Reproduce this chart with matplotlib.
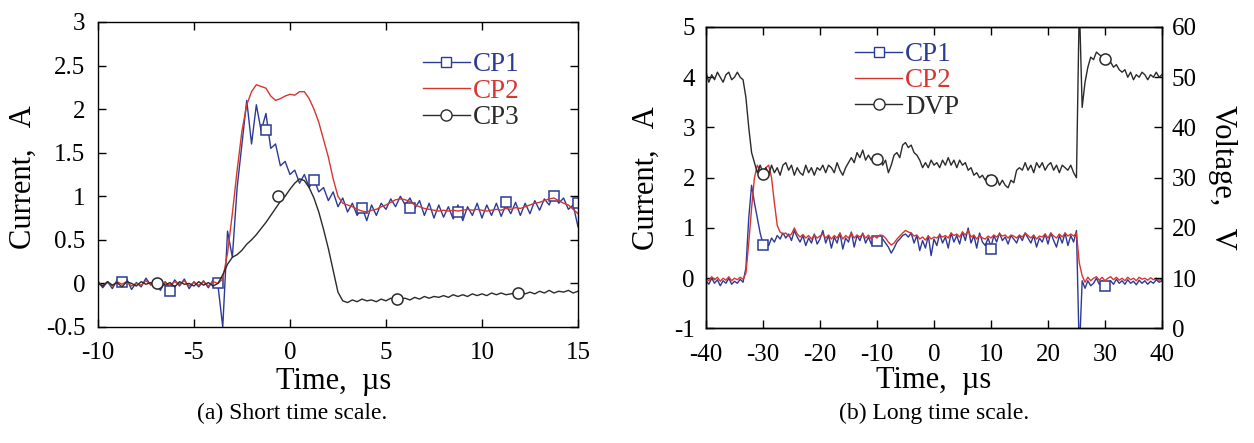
import numpy as np
import matplotlib
matplotlib.use("Agg")
import matplotlib.pyplot as plt
from matplotlib.lines import Line2D

plt.rcParams['font.family'] = ['Liberation Serif', 'DejaVu Serif']
plt.rcParams['axes.unicode_minus'] = False

# ---------------- (a) short time scale, t = -10 .. 15 us, step 0.25 ----------------
t_a = np.arange(-10, 15.001, 0.25)

cp1_a = [0.03, -0.05, 0.02, -0.06, 0.04, -0.03, 0.05, -0.07, 0.01, -0.04, 0.06, -0.02, 0.03,
         -0.08, 0.02, -0.05, 0.04, -0.03, 0.05, -0.06, 0.02, -0.04, 0.03, -0.05, 0.04, -0.02,
         -0.5, 0.6, 0.3, 1.1, 1.6, 2.1, 1.6, 2.05, 1.75, 1.95, 1.55, 1.6, 1.35, 1.4,
         1.25, 1.3, 1.15, 1.25, 1.1, 1.2, 1.05, 1.1, 0.95, 1.05,
         0.88, 0.98, 0.82, 0.92, 0.78, 0.88, 0.72, 0.9, 0.78, 0.92,
         0.85, 0.97, 0.88, 1.0, 0.9, 0.98, 0.86, 0.95, 0.78, 0.92,
         0.75, 0.9, 0.76, 0.88, 0.74, 0.9, 0.72, 0.88, 0.78, 0.92,
         0.75, 0.9, 0.78, 0.92, 0.77, 0.9, 0.8, 0.93, 0.78, 0.92,
         0.8, 0.95, 0.84, 0.97, 0.9, 1.03, 0.92, 0.98, 0.85, 0.9, 0.65]

cp2_a = [0.0, -0.02, 0.01, -0.03, 0.02, -0.01, 0.02, -0.03, 0.0, -0.02, 0.03, -0.01, 0.01,
         -0.04, 0.01, -0.02, 0.02, -0.01, 0.03, -0.03, 0.01, -0.02, 0.02, -0.03, 0.02, 0.0,
         0.05, 0.35, 0.8, 1.3, 1.75, 2.05, 2.2, 2.28, 2.26, 2.24, 2.15, 2.1, 2.12, 2.15,
         2.17, 2.16, 2.2, 2.2, 2.12, 2.0, 1.85, 1.65, 1.45, 1.2,
         1.0, 0.92, 0.9, 0.88, 0.85, 0.83, 0.82, 0.84, 0.85, 0.88,
         0.9, 0.93, 0.96, 0.97, 0.96, 0.94, 0.9, 0.88, 0.86, 0.85,
         0.84, 0.83, 0.84, 0.83, 0.84, 0.83, 0.84, 0.85, 0.84, 0.85,
         0.84, 0.83, 0.84, 0.85, 0.84, 0.86, 0.85, 0.87, 0.86, 0.88,
         0.9, 0.92, 0.93, 0.95, 0.97, 0.98, 0.95, 0.92, 0.9, 0.85, 0.8]

cp3_a = [0.0, -0.03, 0.02, -0.02, 0.01, -0.04, 0.02, 0.0, -0.03, 0.02, -0.01, 0.01, -0.03,
         0.02, -0.02, 0.01, -0.04, 0.02, -0.01, 0.0, -0.03, 0.02, -0.02, 0.01, -0.03, 0.0,
         0.1, 0.22, 0.3, 0.33, 0.38, 0.45, 0.5, 0.56, 0.63, 0.7, 0.78, 0.86, 0.94, 1.0,
         1.08, 1.15, 1.2, 1.18, 1.1, 0.98, 0.82, 0.62, 0.4, 0.15,
         -0.1, -0.2, -0.22, -0.19, -0.21, -0.18, -0.2, -0.19, -0.21, -0.18,
         -0.2, -0.17, -0.19, -0.18, -0.17, -0.19, -0.16, -0.18, -0.15, -0.17,
         -0.15, -0.16, -0.14, -0.16, -0.13, -0.15, -0.13, -0.15, -0.12, -0.14,
         -0.12, -0.14, -0.11, -0.13, -0.11, -0.13, -0.12, -0.11, -0.09, -0.12,
         -0.1, -0.12, -0.09, -0.11, -0.08, -0.11, -0.09, -0.1, -0.08, -0.11, -0.09]

cp1_a_mk_t = [-8.75, -6.25, -3.75, -1.25, 1.25, 3.75, 6.25, 8.75, 11.25, 13.75, 15.0]
cp1_a_mk_y = [0.02, -0.09, 0.0, 1.76, 1.19, 0.86, 0.86, 0.82, 0.93, 1.0, 0.92]
cp3_a_mk_t = [-6.9, -0.6, 5.6, 11.9]
cp3_a_mk_y = [0.0, 1.0, -0.18, -0.11]

# ---------------- (b) long time scale, t = -40 .. 40 us, step 0.5 ----------------
t_b = np.arange(-40, 40.001, 0.5)

cp1_b = [-0.05, -0.12, 0.0, -0.1, -0.03, -0.15, -0.05, -0.1, 0.0, -0.12, -0.06, -0.1, -0.02, -0.08,
         0.2, 1.2, 1.85, 1.5, 1.2, 0.9,
         0.68, 0.75, 0.65, 0.8, 0.72, 0.85, 0.78, 0.9, 0.8, 0.88,
         0.75, 0.95, 0.82, 0.72, 0.85, 0.65, 0.8, 0.7, 0.88, 0.68,
         0.78, 0.95, 0.7, 0.85, 0.6, 0.82, 0.7, 0.9, 0.58, 0.8,
         0.72, 0.92, 0.62, 0.85, 0.75, 0.9, 0.7, 0.82, 0.68, 0.8,
         0.72, 0.85, 0.78, 0.7, 0.62, 0.5, 0.6, 0.72, 0.78, 0.85,
         0.88, 0.82, 0.9, 0.7, 0.85, 0.55, 0.75, 0.6, 0.85, 0.45,
         0.78, 0.65, 0.88, 0.7, 0.82, 0.6, 0.9, 0.72, 0.85, 0.68,
         0.92, 0.75, 1.0, 0.7, 0.85, 0.6, 0.9, 0.72, 0.65, 0.8,
         0.62, 0.85, 0.72, 0.9, 0.75, 0.82, 0.68, 0.85, 0.78, 0.7,
         0.85, 0.75, 0.9, 0.8, 0.7, 0.85, 0.62, 0.8, 0.72, 0.88,
         0.68, 0.9, 0.75, 0.62, 0.85, 0.7, 0.9, 0.65, 0.85, 0.72,
         0.95, -1.5, -0.05, -0.2, -0.05, -0.15, -0.1, 0.0, -0.12, -0.05,
         -0.15, -0.08, -0.05, -0.12, -0.02, -0.1, -0.05, -0.12, -0.03, -0.1,
         -0.06, -0.13, -0.04, -0.1, -0.05, -0.12, -0.06, -0.1, -0.03, -0.08, -0.05]

cp2_b = [0.0, -0.05, 0.03, -0.03, 0.02, -0.06, 0.0, -0.04, 0.03, -0.05, 0.0, -0.03, 0.02, -0.02,
         0.1, 0.7, 1.4, 2.0, 2.25, 2.15,
         2.1, 2.2, 2.25, 2.0, 1.5, 1.05, 0.92, 0.88, 0.9, 0.84,
         0.88, 1.0, 0.88, 0.82, 0.87, 0.8, 0.85, 0.78, 0.86, 0.8,
         0.84, 0.88, 0.8, 0.86, 0.78, 0.85, 0.8, 0.9, 0.78, 0.85,
         0.8, 0.9, 0.8, 0.86, 0.82, 0.88, 0.8, 0.86, 0.78, 0.84,
         0.8, 0.86, 0.85, 0.8, 0.72, 0.66, 0.7, 0.78, 0.84, 0.9,
         0.95, 0.92, 0.9, 0.84, 0.86, 0.78, 0.82, 0.76, 0.84, 0.78,
         0.82, 0.8, 0.86, 0.82, 0.85, 0.8, 0.9, 0.85, 0.88, 0.82,
         0.92, 0.86, 0.95, 0.82, 0.86, 0.78, 0.85, 0.8, 0.78, 0.84,
         0.8, 0.86, 0.82, 0.88, 0.84, 0.86, 0.8, 0.86, 0.84, 0.8,
         0.86, 0.82, 0.9, 0.85, 0.8, 0.86, 0.78, 0.84, 0.82, 0.88,
         0.8, 0.9, 0.84, 0.8, 0.88, 0.82, 0.9, 0.84, 0.88, 0.84,
         0.9, 0.3, 0.05, -0.08, 0.02, -0.05, 0.0, 0.03, -0.04, 0.02,
         -0.05, 0.0, 0.03, -0.03, 0.02, -0.04, 0.0, -0.05, 0.02, -0.03,
         0.0, -0.05, 0.02, -0.02, 0.0, -0.04, 0.01, -0.03, 0.0, -0.04, -0.02]

dvp_b = [51, 49, 50.5, 49.5, 51, 50, 49, 50.5, 51, 49.5, 50, 51, 50,
         49.5, 46, 40, 35, 33, 31, 32.5,
         31, 32, 30.5, 32.5, 31, 32, 30.5, 32.5, 33, 31.5,
         32.5, 30.5, 32, 31, 30.5, 32.5, 31, 32, 30.5, 32,
         31.5, 32.5, 31, 32.5, 32, 31, 33, 31.5, 30.5, 32,
         33, 34, 33, 35, 34, 35.5, 33.5, 34.5, 33.5, 34.5,
         33.5, 34, 32.5, 33.5, 31, 32.5, 34.5, 35, 34, 36.5,
         37, 36, 36.5, 35, 34.5, 33.5, 32, 33, 32, 33.5,
         32.5, 33, 32, 33.5, 32.5, 34, 32.5, 33.5, 32, 33.5,
         32.5, 33, 31.5, 32, 30.5, 31, 30, 30.5, 29.5, 30.5,
         29.5, 29, 30, 28.5, 29.5, 28.5, 28, 29.5, 29, 31.5,
         32, 31.5, 33, 31.5, 32.5, 31, 33, 32, 33, 31.5,
         32.5, 33, 31.5, 32.5, 31, 32.5, 32, 31.5, 32.5, 31,
         30, 65, 44, 49, 52, 54, 53.5, 55, 54.5, 54,
         53.5, 52.5, 53, 52, 52.5, 51.5, 51, 51.5, 50, 51,
         49.5, 50.5, 50, 51, 50.5, 49.5, 50.5, 50, 51, 50, 50.5]

cp1_b_mk_t = [-30, -10, 10, 30]
cp1_b_mk_y = [0.66, 0.75, 0.58, -0.15]
dvp_b_mk_t = [-30, -10, 10, 30]
dvp_b_mk_y = [30.8, 33.7, 29.6, 53.6]

blue = '#2b3a94'
red = '#d8352f'
dark = '#2a2a2a'
lw = 1.0
ms = 7.5
lab_fs = 22
tick_fs = 18
leg_fs = 19.5

fig = plt.figure(figsize=(12.54, 4.43), dpi=100)

# ---- panel (a)
ax1 = fig.add_axes([0.0781, 0.2619, 0.3828, 0.6885])
ax1.plot(t_a, cp1_a, color=blue, lw=lw)
ax1.plot(cp1_a_mk_t, cp1_a_mk_y, ls='none', marker='s', ms=ms, mfc='white', mec=blue, mew=1.1)
ax1.plot(t_a, cp2_a, color=red, lw=lw)
ax1.plot(t_a, cp3_a, color=dark, lw=lw)
ax1.plot(cp3_a_mk_t, cp3_a_mk_y, ls='none', marker='o', ms=ms + 0.5, mfc='white', mec=dark, mew=1.1)
ax1.set_xlim(-10, 15)
ax1.set_ylim(-0.5, 3)
ax1.set_xticks([-10, -5, 0, 5, 10, 15])
ax1.set_yticks([-0.5, 0, 0.5, 1, 1.5, 2, 2.5, 3])
ax1.set_yticklabels(['-0.5', '0', '0.5', '1', '1.5', '2', '2.5', '3'])
ax1.set_xlabel('Time,  \u00b5s', fontsize=lab_fs)
ax1.set_ylabel('Current,   A', fontsize=lab_fs)
ax1.xaxis.set_label_coords(0.49, -0.13)
ax1.yaxis.set_label_coords(-0.125, 0.49)
h1 = [Line2D([], [], color=blue, lw=lw, marker='s', ms=ms, mfc='white', mec=blue),
      Line2D([], [], color=red, lw=lw),
      Line2D([], [], color=dark, lw=lw, marker='o', ms=ms + 0.5, mfc='white', mec=dark)]
leg1 = ax1.legend(h1, ['CP1', 'CP2', 'CP3'], loc='upper left', bbox_to_anchor=(0.677, 0.9),
                  frameon=False, fontsize=leg_fs, handlelength=1.74, handletextpad=0.1,
                  labelspacing=0.05, borderpad=0, borderaxespad=0)
for txt, c in zip(leg1.get_texts(), [blue, red, dark]):
    txt.set_color(c)
fig.text(0.233, 0.055, '(a) Short time scale.', ha='center', fontsize=17)

# ---- panel (b)
ax2 = fig.add_axes([0.563, 0.2585, 0.3636, 0.6806])
ax2.plot(t_b, cp1_b, color=blue, lw=lw)
ax2.plot(cp1_b_mk_t, cp1_b_mk_y, ls='none', marker='s', ms=ms, mfc='white', mec=blue, mew=1.1)
ax2.plot(t_b, cp2_b, color=red, lw=lw)
ax2.set_xlim(-40, 40)
ax2.set_ylim(-1, 5)
ax2.set_xticks(range(-40, 41, 10))
ax2.set_yticks(range(-1, 6))
ax2.set_xlabel('Time,  \u00b5s', fontsize=lab_fs)
ax2.set_ylabel('Current,   A', fontsize=lab_fs)
ax2.xaxis.set_label_coords(0.5, -0.126)
ax2.yaxis.set_label_coords(-0.1, 0.5)

ax3 = ax2.twinx()
ax3.plot(t_b, dvp_b, color=dark, lw=lw)
ax3.plot(dvp_b_mk_t, dvp_b_mk_y, ls='none', marker='o', ms=ms + 0.5, mfc='white', mec=dark, mew=1.1)
ax3.set_ylim(0, 60)
ax3.set_yticks(range(0, 61, 10))
ax3.set_ylabel('Voltage,   V', fontsize=lab_fs)
ylab = ax3.yaxis.label
ylab.set_rotation(270)
ylab.set_rotation_mode('anchor')
ylab.set_va('bottom')
ylab.set_ha('center')
ax3.yaxis.set_label_coords(1.1, 0.5)

h2 = [Line2D([], [], color=blue, lw=lw, marker='s', ms=ms, mfc='white', mec=blue),
      Line2D([], [], color=red, lw=lw),
      Line2D([], [], color=dark, lw=lw, marker='o', ms=ms + 0.5, mfc='white', mec=dark)]
leg2 = ax3.legend(h2, ['CP1', 'CP2', 'DVP'], loc='upper left', bbox_to_anchor=(0.327, 0.95),
                  frameon=False, fontsize=leg_fs, handlelength=1.74, handletextpad=0.1,
                  labelspacing=0.05, borderpad=0, borderaxespad=0)
for txt, c in zip(leg2.get_texts(), [blue, red, dark]):
    txt.set_color(c)
fig.text(0.745, 0.055, '(b) Long time scale.', ha='center', fontsize=17)

for ax in (ax1, ax2, ax3):
    ax.tick_params(direction='in', length=6, labelsize=tick_fs, width=1)
    for s in ax.spines.values():
        s.set_linewidth(1.0)
ax1.tick_params(top=True, right=True)
ax2.tick_params(top=True)
ax1.tick_params(axis='x', pad=11)
ax2.tick_params(axis='x', pad=11)
ax1.tick_params(axis='y', pad=9)
ax2.tick_params(axis='y', pad=8)
ax3.tick_params(axis='y', pad=7)

fig.savefig('out.png', dpi=100)
